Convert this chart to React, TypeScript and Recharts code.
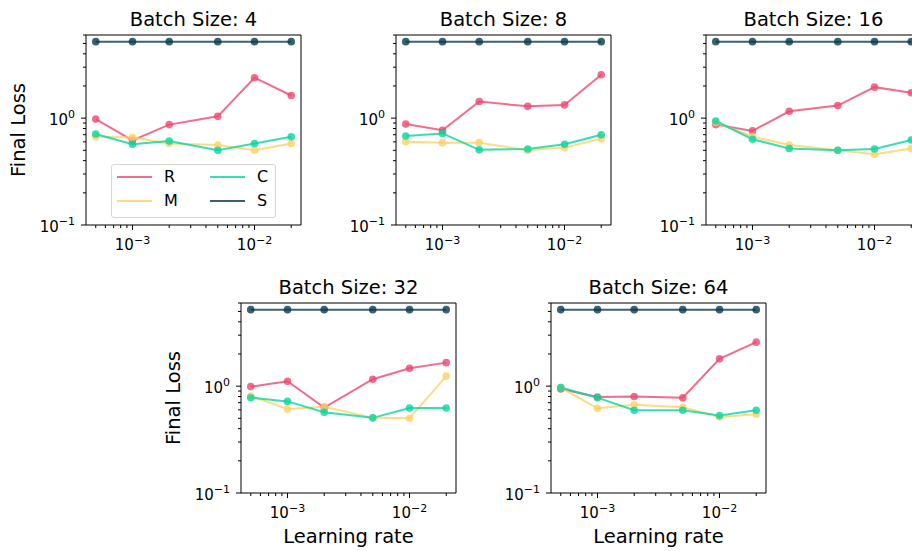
import React from 'react';
import { LineChart, Line, XAxis, YAxis, ReferenceArea } from 'recharts';

const LEARNING_RATES = [5e-4, 1e-3, 2e-3, 5e-3, 1e-2, 2e-2];
const BATCH_SIZES = [4, 8, 16, 32, 64];
const SERIES = ['R', 'M', 'C', 'S'];
const SERIES_COLORS = ['#EF476F', '#FFD166', '#06D6A0', '#073B4C'];

// one row per batch size (4, 8, 16, 32, 64), one value per learning rate
const R_LOSS = [
  [0.98, 0.62, 0.87, 1.04, 2.39, 1.63],
  [0.88, 0.77, 1.43, 1.29, 1.33, 2.55],
  [0.87, 0.76, 1.16, 1.31, 1.95, 1.73],
  [0.99, 1.11, 0.63, 1.16, 1.47, 1.66],
  [0.94, 0.79, 0.8, 0.78, 1.8, 2.58],
];
const M_LOSS = [
  [0.67, 0.66, 0.58, 0.56, 0.5, 0.58],
  [0.6, 0.59, 0.59, 0.5, 0.53, 0.64],
  [0.91, 0.67, 0.56, 0.5, 0.46, 0.52],
  [0.81, 0.61, 0.64, 0.505, 0.5, 1.24],
  [0.97, 0.62, 0.67, 0.635, 0.515, 0.545],
];
const C_LOSS = [
  [0.71, 0.57, 0.61, 0.5, 0.58, 0.67],
  [0.68, 0.72, 0.505, 0.515, 0.57, 0.7],
  [0.94, 0.635, 0.52, 0.5, 0.515, 0.625],
  [0.78, 0.72, 0.57, 0.505, 0.625, 0.625],
  [0.97, 0.78, 0.595, 0.595, 0.53, 0.595],
];
const S_LOSS = [
  [5.2, 5.2, 5.2, 5.2, 5.2, 5.2],
  [5.2, 5.2, 5.2, 5.2, 5.2, 5.2],
  [5.2, 5.2, 5.2, 5.2, 5.2, 5.2],
  [5.2, 5.2, 5.2, 5.2, 5.2, 5.2],
  [5.2, 5.2, 5.2, 5.2, 5.2, 5.2],
];
const LOSSES = [R_LOSS, M_LOSS, C_LOSS, S_LOSS];

const X_MAJOR = [1e-3, 1e-2];
const X_MINOR = [5e-4, 6e-4, 7e-4, 8e-4, 9e-4, 2e-3, 3e-3, 4e-3, 5e-3, 6e-3, 7e-3, 8e-3, 9e-3, 2e-2];
const Y_MAJOR = [0.1, 1];
const Y_MINOR = [0.2, 0.3, 0.4, 0.5, 0.6, 0.7, 0.8, 0.9, 2, 3, 4, 5, 6];
const X_DOMAIN = [Math.pow(10, -3.381), Math.pow(10, -1.619)];
const Y_DOMAIN = [0.1, 6];

// plot-area top-left corner of each panel in the figure
const PANELS = [
  { left: 86, top: 35 },
  { left: 396, top: 35 },
  { left: 706, top: 35 },
  { left: 241, top: 303 },
  { left: 551, top: 303 },
];
const PW = 215;
const PH = 190;
const ML = 70;
const MT = 10;
const MR = 10;
const MB = 32;
const FONT = 'DejaVu Sans, sans-serif';

const isMajor = (v: number, majors: number[]) => majors.some((m) => Math.abs(v / m - 1) < 1e-6);

const Pow = ({ x, y, exp, anchor }: any) => (
  <text x={x} y={y} textAnchor={anchor} style={{ fontSize: 15, fontFamily: FONT }} fill="#000">
    10
    <tspan dy={-6.5} style={{ fontSize: 11 }}>
      {exp < 0 ? '\u2212' + -exp : String(exp)}
    </tspan>
  </text>
);

const XTick = ({ x, y, payload }: any) => {
  const v = payload.value;
  const major = isMajor(v, X_MAJOR);
  return (
    <g>
      <line x1={x} x2={x} y1={y} y2={y + (major ? 5 : 3)} stroke="#000" strokeWidth={1} />
      {major && <Pow x={x} y={y + 25} exp={Math.round(Math.log10(v))} anchor="middle" />}
    </g>
  );
};

const YTick = ({ x, y, payload }: any) => {
  const v = payload.value;
  const major = isMajor(v, Y_MAJOR);
  return (
    <g>
      <line x1={x - (major ? 5 : 3)} x2={x} y1={y} y2={y} stroke="#000" strokeWidth={1} />
      {major && <Pow x={x - 11} y={y + 6.5} exp={Math.round(Math.log10(v))} anchor="end" />}
    </g>
  );
};

const Panel = ({ idx }: { idx: number }) => {
  const data = LEARNING_RATES.map((lr, i) => {
    const row: any = { lr };
    SERIES.forEach((s, k) => {
      row[s] = LOSSES[k][idx][i];
    });
    return row;
  });
  const p = PANELS[idx];
  return (
    <div style={{ position: 'absolute', left: p.left - ML, top: p.top - MT }}>
      <LineChart
        width={ML + PW + MR}
        height={MT + PH + MB}
        data={data}
        margin={{ top: MT, left: 0, right: MR, bottom: 0 }}
      >
        <XAxis
          dataKey="lr"
          type="number"
          scale="log"
          domain={X_DOMAIN}
          allowDataOverflow
          ticks={[...X_MINOR, ...X_MAJOR]}
          interval={0}
          tick={<XTick />}
          tickLine={false}
          axisLine={false}
          tickSize={0}
          tickMargin={0}
          height={MB}
        />
        <YAxis
          type="number"
          scale="log"
          domain={Y_DOMAIN}
          allowDataOverflow
          ticks={[...Y_MINOR, ...Y_MAJOR]}
          interval={0}
          tick={<YTick />}
          tickLine={false}
          axisLine={false}
          tickSize={0}
          tickMargin={0}
          width={ML}
        />
        <ReferenceArea
          x1={X_DOMAIN[0]}
          x2={X_DOMAIN[1]}
          y1={Y_DOMAIN[0]}
          y2={Y_DOMAIN[1]}
          fill="none"
          stroke="#000"
          strokeWidth={1}
          ifOverflow="visible"
        />
        {SERIES.map((s, k) => (
          <Line
            key={s}
            dataKey={s}
            stroke={SERIES_COLORS[k]}
            strokeOpacity={0.8}
            strokeWidth={2}
            dot={{ r: 3.8, fill: SERIES_COLORS[k], fillOpacity: 0.8, stroke: 'none' }}
            activeDot={false}
            isAnimationActive={false}
          />
        ))}
      </LineChart>
    </div>
  );
};

const LegendBox = () => (
  <div
    style={{
      position: 'absolute',
      left: 111,
      top: 164,
      width: 163,
      height: 52,
      border: '1px solid #d6d6d6',
      borderRadius: 3,
      background: 'rgba(255,255,255,0.8)',
      fontFamily: FONT,
      fontSize: 16,
    }}
  >
    {SERIES.map((s, i) => {
      const col = Math.floor(i / 2);
      const row = i % 2;
      return (
        <div key={s} style={{ position: 'absolute', left: 5 + col * 93, top: 1 + row * 24, height: 22, display: 'flex', alignItems: 'center' }}>
          <div style={{ width: 35, height: 2.5, background: SERIES_COLORS[i], opacity: 0.8 }} />
          <span style={{ marginLeft: 12, lineHeight: '22px' }}>{s}</span>
        </div>
      );
    })}
  </div>
);

export default function App() {
  return (
    <div style={{ position: 'fixed', left: 0, top: 0, width: 912, height: 551, overflow: 'hidden', background: '#fff' }}>
      {BATCH_SIZES.map((_, i) => (
        <Panel key={i} idx={i} />
      ))}
      <LegendBox />
      <svg width={912} height={551} style={{ position: 'absolute', left: 0, top: 0, pointerEvents: 'none' }}>
        {BATCH_SIZES.map((bs, i) => (
          <text key={bs} x={PANELS[i].left + PW / 2} y={PANELS[i].top - 9.5} textAnchor="middle" fontSize={19.5} fontFamily={FONT}>
            Batch Size: {bs}
          </text>
        ))}
        {[0, 3].map((i) => (
          <text
            key={'yl' + i}
            transform={`translate(${PANELS[i].left - 61}, ${PANELS[i].top + PH / 2}) rotate(-90)`}
            textAnchor="middle"
            fontSize={19.5}
            fontFamily={FONT}
          >
            Final Loss
          </text>
        ))}
        {[3, 4].map((i) => (
          <text key={'xl' + i} x={PANELS[i].left + PW / 2} y={543} textAnchor="middle" fontSize={19.5} fontFamily={FONT}>
            Learning rate
          </text>
        ))}
      </svg>
    </div>
  );
}
